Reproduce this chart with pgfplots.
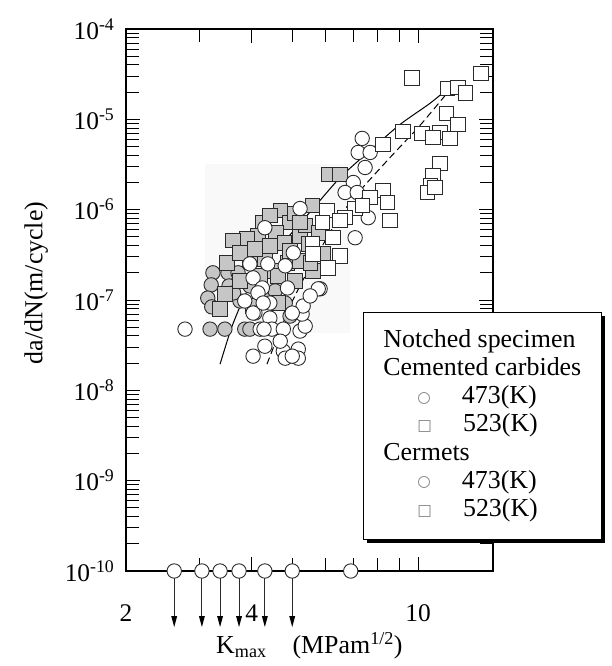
\documentclass[border=0pt]{standalone}
\usepackage{pgfplots}
\pgfplotsset{compat=1.18}
\usepackage{fontspec}
\setmainfont{Liberation Serif}
\newfontfamily\symfont{DejaVu Sans}
\usetikzlibrary{shadows}
\pgfdeclareplotmark{runout}{%
  \pgfsetfillcolor{black}%
  \pgfpathmoveto{\pgfpoint{0bp}{-\pgfplotmarksize}}%
  \pgfpathlineto{\pgfpoint{0bp}{-47bp}}%
  \pgfusepathqstroke
  \pgfpathmoveto{\pgfpoint{0bp}{-56bp}}%
  \pgfpathlineto{\pgfpoint{-3bp}{-45bp}}%
  \pgfpathlineto{\pgfpoint{3bp}{-45bp}}%
  \pgfpathclose
  \pgfusepathqfill
  \pgfsetfillcolor{white}%
  \pgfpathcircle{\pgfpointorigin}{\pgfplotmarksize}%
  \pgfusepathqfillstroke
}
\definecolor{markgray}{HTML}{C6C6C6}
\definecolor{edge}{HTML}{2A2A2A}
\newcommand{\legsym}[1]{\hspace*{34bp}\raisebox{1.5bp}{\symfont\fontsize{15.5}{16}\selectfont\color{gray}#1}\hspace{31bp}}
\begin{document}
\begin{tikzpicture}
\begin{axis}[
  scale only axis, width=367bp, height=542bp,
  xmode=log, ymode=log,
  xmin=2, xmax=15.1, ymin=1e-10, ymax=1e-4,
  xtick={2,4,10}, xticklabels={2,4,10},
  minor xtick={3,5,6,7,8,9},
  ytick={1e-10,1e-9,1e-8,1e-7,1e-6,1e-5,1e-4},
  yticklabels={10\textsuperscript{-10},10\textsuperscript{-9},10\textsuperscript{-8},10\textsuperscript{-7},10\textsuperscript{-6},10\textsuperscript{-5},10\textsuperscript{-4}},
  minor ytick={2e-10,3e-10,4e-10,5e-10,6e-10,7e-10,8e-10,9e-10,
               2e-9,3e-9,4e-9,5e-9,6e-9,7e-9,8e-9,9e-9,
               2e-8,3e-8,4e-8,5e-8,6e-8,7e-8,8e-8,9e-8,
               2e-7,3e-7,4e-7,5e-7,6e-7,7e-7,8e-7,9e-7,
               2e-6,3e-6,4e-6,5e-6,6e-6,7e-6,8e-6,9e-6,
               2e-5,3e-5,4e-5,5e-5,6e-5,7e-5,8e-5,9e-5},
  major tick length=14bp, minor tick length=13bp,
  tick style={black, line width=0.9bp},
  axis line style={line width=1.3bp},
  clip=false,
  /pgf/number format/assume math mode=true,
  tick label style={font=\fontsize{25.5}{28}\selectfont},
  xticklabel style={yshift=-30bp},
  yticklabel style={xshift=-8bp},
  label style={font=\fontsize{26}{30}\selectfont},
  xlabel={K\textsubscript{max}\quad(MPam\textsuperscript{1/2})},
  xlabel style={yshift=-4bp},
  ylabel={da/dN(m/cycle)},
  ylabel style={xshift=17bp, yshift=10bp},
]
\path (rel axis cs:-0.343,-0.1753) (rel axis cs:1.324,1.0535);
\fill[gray!5] (axis cs:3.09,4.3e-8) rectangle (axis cs:6.88,3.24e-6);
% Cemented carbides 473 K (gray circles)
\addplot[only marks, mark=*, mark size=7.2bp, mark options={draw=edge, fill=markgray, line width=0.9bp}] coordinates {
(3.23,2.0e-7) (3.51,2.0e-7) (3.71,2.0e-7) (3.20,1.47e-7) (3.53,1.43e-7) (3.14,1.05e-7)
(3.21,8.4e-8) (3.18,4.76e-8) (3.45,4.76e-8) (3.85,4.76e-8) (3.96,4.76e-8) (3.75,9.75e-8)
(3.96,1.43e-7) (4.24,1.11e-7) (4.55,1.26e-7) (4.81,9.26e-8) (4.94,6.64e-8) (3.62,1.2e-7)
};
% Cemented carbides 523 K (gray squares)
\addplot[only marks, mark=square*, mark size=7.2bp, mark options={draw=edge, fill=markgray, line width=0.9bp}] coordinates {
(6.12,2.45e-6) (6.51,2.45e-6) (5.58,1.11e-6) (4.68,9.75e-7) (4.94,7.17e-7) (4.24,7.17e-7)
(4.57,5.55e-7) (4.14,5.14e-7) (5.22,5.14e-7) (4.79,4.30e-7) (3.90,4.76e-7) (3.61,4.53e-7)
(3.96,2.86e-7) (4.30,2.86e-7) (4.42,3.98e-7) (4.87,2.58e-7) (5.22,2.71e-7) (5.61,2.10e-7)
(5.93,3.24e-7) (5.46,4.19e-7) (3.49,2.58e-7) (3.75,3.33e-7) (3.45,1.17e-7) (3.36,7.94e-8)
(4.03,8.58e-8) (4.62,9.26e-8) (4.19,1.85e-7) (4.55,2.10e-7) (5.08,1.63e-7) (3.75,1.63e-7)
(5.37,6.64e-7) (5.08,9.03e-7) (4.42,8.58e-7) (5.22,7.17e-7) (4.07,3.69e-7) (4.94,3.50e-7)
(5.77,5.55e-7) (4.62,1.85e-7) (5.52,2.58e-7)
};
% Cermets 473 K (white circles)
\addplot[only marks, mark=*, mark size=7.2bp, mark options={draw=edge, fill=white, line width=0.9bp}] coordinates {
(7.35,6.15e-6) (7.19,4.30e-6) (7.68,4.30e-6) (7.47,2.93e-6) (7.00,2.0e-6) (6.69,1.55e-6)
(7.15,1.55e-6) (7.60,8.15e-7) (7.07,4.89e-7) (5.22,1.03e-6) (4.30,6.31e-7) (5.03,3.33e-7)
(4.37,2.51e-7) (4.03,1.76e-7) (4.87,1.36e-7) (5.83,1.33e-7) (4.24,1.36e-7) (4.14,1.2e-7)
(4.42,9.26e-8) (4.07,7.17e-8) (4.42,6.31e-8) (4.47,4.76e-8) (2.77,4.76e-8) (4.76,4.76e-8)
(5.22,4.53e-8) (5.37,5.14e-8) (4.30,3.08e-8) (4.03,2.39e-8) (4.76,2.71e-8) (5.17,2.86e-8)
(4.81,2.27e-8) (5.17,2.27e-8) (5.28,6.99e-8) (5.31,8.58e-8) (5.00,7.17e-8) (4.03,7.17e-8)
(5.77,1.33e-7) (4.19,4.76e-8) (4.28,4.76e-8) (3.96,2.51e-7) (4.81,2.39e-7)
(4.68,3.5e-8) (5.00,2.39e-8) (4.26,9.26e-8) (5.52,1.11e-7) (3.85,9.75e-8)
};
% Cermets 523 K (white squares)
\addplot[only marks, mark=square*, mark size=7.2bp, mark options={draw=edge, fill=white, line width=0.9bp}] coordinates {
(9.66,2.86e-5) (14.15,3.24e-5) (11.77,2.21e-5) (12.45,2.27e-5) (13.0,1.95e-5) (11.71,1.17e-5)
(12.45,8.8e-6) (11.29,7.17e-6) (10.22,6.99e-6) (10.86,6.31e-6) (11.93,6.15e-6) (9.20,7.36e-6)
(8.24,5.27e-6) (11.29,3.24e-6) (10.86,2.39e-6) (10.69,1.85e-6) (10.52,1.55e-6) (10.98,1.76e-6)
(8.24,1.63e-6) (8.46,1.20e-6) (7.68,1.36e-6) (8.57,7.55e-7) (7.07,1.03e-6) (6.69,8.15e-7)
(6.06,9.75e-7) (5.90,7.17e-7) (6.26,4.89e-7) (6.51,3.08e-7) (5.58,4.19e-7) (6.09,2.27e-7)
(5.61,3.24e-7) (6.51,7.55e-7) (7.35,1.11e-6)
};
% trend lines
\addplot[black, line width=1bp, smooth, tension=0.4] coordinates {
(3.36,1.95e-8) (3.59,5.14e-8) (3.90,1.26e-7) (4.30,2.58e-7) (4.87,4.89e-7) (5.61,1.03e-6)
(6.51,2.27e-6) (7.68,4.53e-6) (9.06,8.8e-6) (10.69,1.51e-5) (12.06,2.39e-5)
};
\addplot[black, line width=1bp, dash pattern=on 7bp off 4bp, smooth, tension=0.4] coordinates {
(4.35,1.95e-8) (4.62,3.98e-8) (4.94,8.58e-8) (5.37,1.85e-7) (5.90,3.98e-7) (6.51,8.58e-7)
(7.27,1.63e-6) (8.57,3.78e-6) (10.11,8.58e-6) (12.06,2.27e-5)
};
% run-outs at 1e-10
\addplot[only marks, mark=runout, mark size=7.2bp, mark options={draw=edge, line width=0.9bp}] coordinates {
(2.61,1e-10) (3.04,1e-10) (3.36,1e-10) (3.73,1e-10) (4.30,1e-10) (5.00,1e-10)
};
\addplot[only marks, mark=*, mark size=7.2bp, mark options={draw=edge, fill=white, line width=0.9bp}] coordinates {
(6.90,1e-10)
};
\node[draw, line width=1bp, fill=white,
  drop shadow={shadow xshift=4bp, shadow yshift=-4bp, fill=black, opacity=1},
  anchor=north west, inner xsep=20bp, inner ysep=17bp, align=left,
  font=\fontsize{26}{28.3}\selectfont] at (rel axis cs:0.646,0.478) {%
Notched specimen\\
Cemented carbides\\
\legsym{○}473(K)\\
\legsym{□}523(K)\\
Cermets\\
\legsym{○}473(K)\\
\legsym{□}523(K)};
\end{axis}
\end{tikzpicture}
\end{document}
